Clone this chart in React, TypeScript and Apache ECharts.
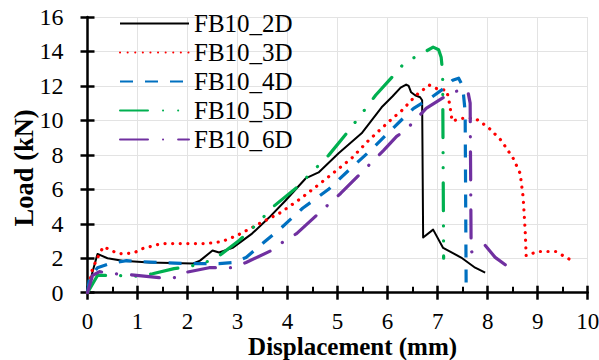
import React, { useEffect, useRef } from "react";
import * as echarts from "echarts";

const seriesNames = ["FB10_2D", "FB10_3D", "FB10_4D", "FB10_5D", "FB10_6D"];

const fb2D: [number, number][] = [
  [0, 0], [0.1, 1.2], [0.2, 2.25], [0.4, 2.0], [0.7, 1.86], [1.24, 1.75], [2.1, 1.69],
  [2.25, 1.86], [2.5, 2.45], [2.63, 2.33], [2.9, 2.6], [3.29, 3.43], [3.63, 4.36],
  [3.96, 5.35], [4.36, 6.63], [4.62, 6.98], [5.02, 8.09], [5.48, 9.25], [5.88, 10.76],
  [6.1, 11.4], [6.26, 11.9], [6.37, 12.08], [6.42, 12.0], [6.47, 11.63], [6.55, 11.46],
  [6.65, 11.34], [6.69, 11.17], [6.71, 3.2], [6.91, 3.66], [7.11, 2.6], [7.47, 2.04],
  [7.75, 1.45], [7.95, 1.16],
];

const fb3D: [number, number][] = [
  [0, 0], [0.1, 1.4], [0.24, 2.27], [0.32, 2.68], [0.48, 2.44], [0.62, 2.27], [0.78, 2.27],
  [0.94, 2.33], [1.1, 2.56], [1.26, 2.68], [1.39, 2.79], [1.55, 2.85], [2.03, 2.85],
  [2.37, 2.85], [2.69, 2.97], [2.99, 3.32], [3.43, 4.0], [3.86, 4.65], [4.28, 5.5],
  [4.78, 6.63], [5.28, 7.8], [5.62, 8.84], [6.12, 10.18], [6.25, 10.47], [6.57, 11.46],
  [6.83, 12.05], [7.03, 11.78], [7.18, 11.76], [7.24, 10.95], [7.29, 9.95], [7.47, 10.12],
  [7.75, 10.12], [8.01, 9.6], [8.27, 8.84], [8.51, 7.8], [8.65, 6.92], [8.71, 5.53],
  [8.75, 3.6], [8.77, 2.15], [9.0, 2.39], [9.36, 2.39], [9.66, 1.9],
];

const fb4D: [number, number][] = [
  [0, 0], [0.04, 0.87], [0.2, 1.45], [0.44, 1.69], [0.78, 1.86], [1.1, 1.8], [1.49, 1.75],
  [2.03, 1.69], [2.63, 1.69], [2.89, 1.75], [3.17, 2.04], [3.57, 3.03], [3.88, 3.78],
  [4.3, 4.9], [4.82, 6.0], [5.22, 7.1], [5.66, 8.26], [6.02, 9.3], [6.25, 9.95],
  [6.52, 10.7], [6.86, 11.3], [7.16, 11.93], [7.3, 12.33], [7.42, 12.45], [7.5, 12.0],
  [7.55, 10.5], [7.57, 0.4],
];

const fb5D: [number, number][] = [
  [0, 0], [0.2, 1.0], [0.6, 1.0], [1.0, 0.95], [1.3, 1.1], [1.73, 1.4], [2.0, 1.5],
  [2.3, 1.7], [2.57, 2.0], [3.03, 3.03], [3.27, 3.66], [3.49, 4.3], [3.69, 4.94],
  [4.16, 6.05], [4.38, 6.69], [4.6, 7.33], [4.82, 7.97], [5.18, 9.25], [5.38, 10.0],
  [5.58, 10.76], [5.76, 11.46], [6.16, 12.74], [6.35, 13.38], [6.63, 13.79],
  [6.91, 14.25], [7.02, 14.1], [7.07, 13.67], [7.1, 12.8], [7.12, 2.0],
];

const fb6D: [number, number][] = [
  [0, 0], [0.1, 1.0], [0.24, 1.22], [0.54, 1.1], [0.84, 1.05], [1.43, 0.87], [1.73, 0.87],
  [1.85, 0.9], [2.0, 1.2], [2.43, 1.45], [2.87, 1.45], [3.17, 1.75], [3.67, 2.44],
  [3.92, 2.97], [4.18, 3.43], [4.62, 4.6], [4.84, 5.18], [5.06, 5.76], [5.46, 6.92],
  [5.7, 7.62], [5.92, 8.26], [6.18, 9.07], [6.35, 9.42], [6.55, 10.0], [6.77, 10.7],
  [7.25, 11.58], [7.5, 11.8], [7.6, 11.75], [7.65, 11.0], [7.67, 2.35], [7.95, 2.75],
  [8.15, 2.05], [8.57, 1.16],
];

const seriesData = [fb2D, fb3D, fb4D, fb5D, fb6D];

const FONT = "'Liberation Serif', 'Times New Roman', serif";

export default function App() {
  const ref = useRef<HTMLDivElement>(null);

  useEffect(() => {
    if (!ref.current) return;
    const chart = echarts.init(ref.current, undefined, { renderer: "svg" });

    const styles = [
      { color: "#000000", width: 2, type: "solid" as any, cap: "butt" },
      { color: "#ff0000", width: 3.2, type: [0.1, 7.5], cap: "round" },
      { color: "#0070c0", width: 3.2, type: [13, 12], cap: "butt" },
      { color: "#00b050", width: 3.2, type: [28, 15, 0.1, 15, 0.1, 15], cap: "round" },
      { color: "#7030a0", width: 3.2, type: [28, 15, 0.1, 15], cap: "round" },
    ];

    const axisLineStyle = { color: "#000", width: 2.5 };

    chart.setOption({
      animation: false,
      backgroundColor: "#fff",
      grid: {
        left: 87.5,
        right: 11.3,
        top: 17,
        bottom: 67.3,
        containLabel: false,
        outerBoundsMode: "none",
      },
      legend: {
        orient: "vertical",
        left: 119,
        top: 11,
        padding: 0,
        itemWidth: 69,
        itemHeight: 14,
        itemGap: 4,
        data: seriesNames,
        itemStyle: { color: "transparent", borderColor: "transparent", borderWidth: 0 },
        textStyle: { fontFamily: FONT, fontSize: 25, color: "#000", lineHeight: 24.4 },
      },
      xAxis: [
        {
          type: "value",
          min: 0,
          max: 10,
          interval: 1,
          position: "bottom",
          name: "Displacement (mm)",
          nameLocation: "middle",
          nameGap: 42,
          nameMoveOverlap: false,
          nameTextStyle: {
            fontFamily: FONT,
            fontSize: 25,
            fontWeight: "bold",
            color: "#000",
            lineHeight: 24,
            padding: [0, 0, 0, 30],
          },
          axisLine: { show: true, onZero: false, lineStyle: axisLineStyle },
          axisTick: { show: true, length: 7, lineStyle: axisLineStyle },
          axisLabel: { fontFamily: FONT, fontSize: 23, color: "#000", margin: 19, lineHeight: 20 },
          splitLine: { show: true, lineStyle: { color: "#e3e3e3", width: 1 } },
        },
        {
          type: "value",
          min: 0,
          max: 10,
          interval: 1,
          position: "bottom",
          axisLine: { show: false, onZero: false },
          axisTick: { show: true, inside: true, length: 7, lineStyle: axisLineStyle },
          minorTick: { show: true, splitNumber: 2, length: 6, lineStyle: { color: "#000", width: 2 } },
          axisLabel: { show: false },
          splitLine: { show: false },
        },
      ],
      yAxis: [
        {
          type: "value",
          min: 0,
          max: 16,
          interval: 2,
          position: "left",
          name: "Load (kN)",
          nameLocation: "middle",
          nameGap: 50,
          nameMoveOverlap: false,
          nameTextStyle: {
            fontFamily: FONT,
            fontSize: 26.5,
            fontWeight: "bold",
            color: "#000",
            padding: [0, 26, 0, 0],
          },
          axisLine: { show: true, onZero: false, lineStyle: axisLineStyle },
          axisTick: { show: true, length: 7, lineStyle: axisLineStyle },
          axisLabel: { fontFamily: FONT, fontSize: 24, color: "#000", margin: 24 },
          splitLine: { show: true, lineStyle: { color: "#e3e3e3", width: 1 } },
        },
        {
          type: "value",
          min: 0,
          max: 16,
          interval: 2,
          position: "left",
          axisLine: { show: false, onZero: false },
          axisTick: { show: true, inside: true, length: 7, lineStyle: axisLineStyle },
          axisLabel: { show: false },
          splitLine: { show: false },
        },
      ],
      series: seriesNames.map((name, i) => ({
        name,
        type: "line",
        xAxisIndex: 0,
        yAxisIndex: 0,
        data: seriesData[i],
        symbol: "none",
        showSymbol: false,
        smooth: false,
        color: styles[i].color,
        lineStyle: {
          color: styles[i].color,
          width: styles[i].width,
          type: styles[i].type,
          cap: styles[i].cap,
          join: "round",
        },
        z: 2 + i,
      })),
    });

    return () => chart.dispose();
  }, []);

  return (
    <div
      ref={ref}
      style={{ position: "fixed", left: 0, top: 0, width: 599, height: 360 }}
    />
  );
}
